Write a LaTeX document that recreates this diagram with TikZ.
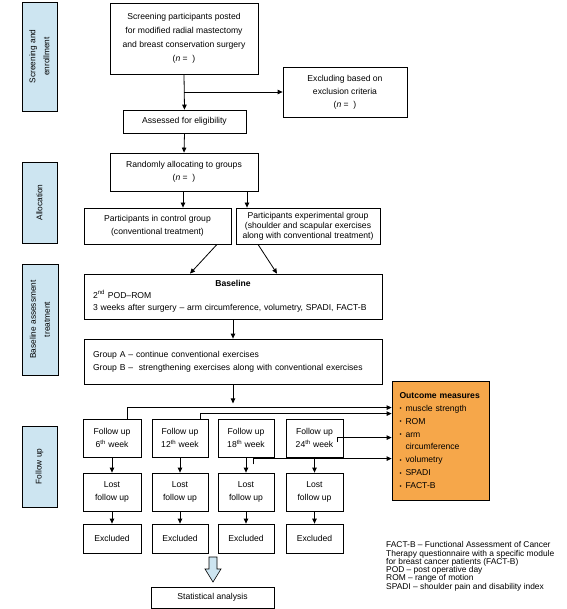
\documentclass[tikz,border=0pt]{standalone}
\usepackage{fontspec}
\setmainfont{Liberation Sans}
\usetikzlibrary{arrows.meta,calc}
\definecolor{sideblue}{RGB}{205,229,241}
\definecolor{outorange}{RGB}{246,167,74}
\newcommand{\bul}{\makebox[6pt][l]{\raisebox{0.3pt}{\fontsize{6}{6}\selectfont\textbullet}}}
\begin{document}
\begin{tikzpicture}[x=1pt,y=-1pt,
  font=\fontsize{8.6}{13.5}\selectfont,
  box/.style={draw, line width=0.8pt, inner sep=0pt, align=center},
  side/.style={draw, line width=0.8pt, fill=sideblue, rotate=90, inner sep=0pt, align=center, font=\fontsize{8.3}{14}\selectfont},
  arr/.style={-{Triangle[length=5pt,width=4.5pt]}, line width=0.8pt},
  ln/.style={line width=0.8pt}]
\useasboundingbox (0,0) rectangle (566,609);

% side labels
\node[side, minimum width=109, minimum height=35] (s1) at (39.5,56.5) {Screening and\\enrollment};
\node[side, minimum width=81, minimum height=35] (s2) at (39.5,202.5) {Allocation};
\node[side, minimum width=111, minimum height=36] (s3) at (40,319.5) {Baseline assessment\\treatment};
\node[side, minimum width=81, minimum height=35] (s4) at (39.5,466.5) {Follow up};

% main boxes
\node[box, minimum width=148, minimum height=71, font=\fontsize{8.6}{13.9}\selectfont] (scr) at (184,38.5) {Screening participants posted\\for modified radial mastectomy\\and breast conservation surgery\\(\textit{n} =\ \ )};
\node[box, minimum width=124, minimum height=50, font=\fontsize{8.6}{12.8}\selectfont] (excl) at (345,92) {Excluding based on\\exclusion criteria\\(\textit{n} =\ \ )};
\node[box, minimum width=123, minimum height=23] (ass) at (184.5,121.5) {Assessed for eligibility};
\node[box, minimum width=148, minimum height=38] (rand) at (184,172) {Randomly allocating to groups\\(\textit{n} =\ \ )};
\node[box, minimum width=147, minimum height=36] (ctrl) at (157.5,226) {Participants in control group\\(conventional treatment)};
\node[box, minimum width=144, minimum height=36, font=\fontsize{8.6}{10}\selectfont] (exp) at (308,226) {Participants experimental group\\(shoulder and scapular exercises\\along with conventional treatment)};
\node[box, minimum width=298, minimum height=45, text width=280, align=left, font=\fontsize{8.6}{12}\selectfont] (base) at (233,296.5) {\makebox[280pt]{\bfseries Baseline}\\2\textsuperscript{nd} POD--ROM\\3 weeks after surgery -- arm circumference, volumetry, SPADI, FACT-B};
\node[box, minimum width=298, minimum height=45, text width=280, align=left, font=\fontsize{8.6}{12.7}\selectfont] (grp) at (233,361.5) {Group A -- continue conventional exercises\\Group B --\ \ strengthening exercises along with conventional exercises};

% follow up row
\node[box, minimum width=58, minimum height=38] (fu6) at (112,438) {Follow up\\6\textsuperscript{th} week};
\node[box, minimum width=56, minimum height=38] (fu12) at (180,438) {Follow up\\12\textsuperscript{th} week};
\node[box, minimum width=56, minimum height=38] (fu18) at (246,438) {Follow up\\18\textsuperscript{th} week};
\node[box, minimum width=57, minimum height=38] (fu24) at (314.5,438) {Follow up\\24\textsuperscript{th} week};

\node[box, minimum width=58, minimum height=38] (l6) at (112,492) {Lost\\follow up};
\node[box, minimum width=56, minimum height=38] (l12) at (180,492) {Lost\\follow up};
\node[box, minimum width=56, minimum height=38] (l18) at (246,492) {Lost\\follow up};
\node[box, minimum width=57, minimum height=38] (l24) at (314.5,492) {Lost\\follow up};

\node[box, minimum width=58, minimum height=29] (e6) at (112,538.5) {Excluded};
\node[box, minimum width=56, minimum height=29] (e12) at (180,538.5) {Excluded};
\node[box, minimum width=56, minimum height=29] (e18) at (246,538.5) {Excluded};
\node[box, minimum width=57, minimum height=29] (e24) at (314.5,538.5) {Excluded};

\node[box, minimum width=123, minimum height=21] (stat) at (212.5,597.5) {Statistical analysis};

% outcome measures
\node[box, fill=outorange, minimum width=97, minimum height=119, text width=82, align=left, font=\fontsize{8.6}{12.9}\selectfont] (out) at (440.5,440.5)
 {\textbf{Outcome measures}\\\bul muscle strength\\\bul ROM\\\bul arm\\\hspace*{6pt}circumference\\\bul volumetry\\\bul SPADI\\\bul FACT-B};

% legend
\node[anchor=north west, align=left, inner sep=0pt, font=\fontsize{8.4}{8.3}\selectfont] (leg) at (386,541.5)
 {FACT-B -- Functional Assessment of Cancer\\Therapy questionnaire with a specific module\\for breast cancer patients (FACT-B)\\POD -- post operative day\\ROM -- range of motion\\SPADI -- shoulder pain and disability index};

% connectors
\coordinate (br1) at (scr.south |- excl.west);
\draw[arr] (scr.south) -- (ass.north);
\draw[arr] (br1) -- (excl.west);
\draw[arr] (ass.south) -- (rand.north);
\coordinate (r1) at ($(rand.south)+(-1,0)$);
\coordinate (r2) at ($(rand.south)+(63,0)$);
\draw[arr] (r1) -- (r1 |- ctrl.north);
\draw[arr] (r2) -- (r2 |- exp.north);
\coordinate (d1) at ($(ctrl.south)+(59.5,0)$);
\coordinate (d1e) at ($(base.north)+(-43,0)$);
\coordinate (d2) at ($(exp.south)+(-50,0)$);
\coordinate (d2e) at ($(base.north)+(44,0)$);
\draw[arr] (d1) -- (d1e);
\draw[arr] (d2) -- (d2e);
\draw[arr] (base.south) -- (grp.north);
\coordinate (g1) at ($(grp.south)+(0,19)$);
\draw[arr] (grp.south) -- (g1);

\coordinate (o1) at ($(out.north west)+(0,27)$);
\coordinate (o2) at ($(out.north west)+(0,33)$);
\coordinate (o3) at ($(out.north west)+(0,57)$);
\coordinate (o4) at ($(out.north west)+(0,78)$);
\coordinate (f6t) at ($(fu6.north)+(15,0)$);
\coordinate (f12t) at ($(fu12.north)+(20,0)$);
\coordinate (f24s) at ($(fu24.east)+(-6,4)$);
\coordinate (f18s) at ($(fu18.south)+(7,7)$);
\draw[arr] (f6t) |- (o1);
\draw[arr] (f12t) |- (o2);
\draw[arr] (f24s) |- (o3);
\draw[arr] (f18s) |- (o4);

\foreach \k in {6,12,18,24}{
  \draw[arr] (fu\k.south) -- (l\k.north);
  \draw[arr] (l\k.south) -- (e\k.north);
}

% hollow block arrow
\draw[line width=0.6pt, fill=sideblue] (209,557) -- (217,557) -- (217,569) -- (221,569) -- (213,582) -- (205,569) -- (209,569) -- cycle;
\end{tikzpicture}
\end{document}
